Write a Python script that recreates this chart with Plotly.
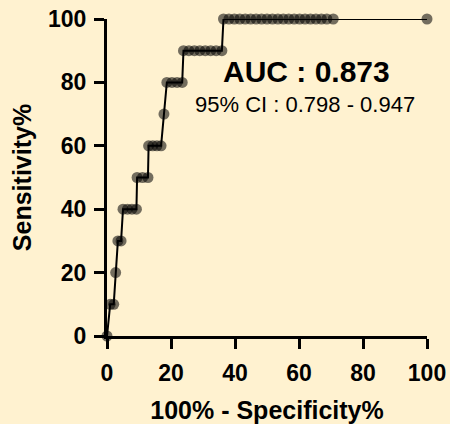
import plotly.graph_objects as go

# ROC points: 100% - Specificity% (x) and Sensitivity% (y)
fpr = [0,
       1.0, 2.1,
       2.7,
       3.4, 4.4,
       5.0, 6.4, 7.8, 9.2,
       9.4, 11.1, 12.8,
       13.0, 14.3, 15.6, 16.9,
       17.8,
       18.7, 20.3, 21.9, 23.5,
       23.9, 25.6, 27.3, 29.0, 30.7, 32.4, 34.1, 35.9,
       36.4, 38.1, 39.8, 41.5, 43.2, 44.9, 46.6, 48.3, 50.0, 51.7, 53.4,
       55.1, 56.8, 58.5, 60.2, 61.9, 63.6, 65.3, 67.0, 68.7, 70.7, 100]
tpr = [0,
       10, 10,
       20,
       30, 30,
       40, 40, 40, 40,
       50, 50, 50,
       60, 60, 60, 60,
       70,
       80, 80, 80, 80,
       90, 90, 90, 90, 90, 90, 90, 90,
       100, 100, 100, 100, 100, 100, 100, 100, 100, 100, 100,
       100, 100, 100, 100, 100, 100, 100, 100, 100, 100, 100]

x_ticks = [0, 20, 40, 60, 80, 100]
y_ticks = [0, 20, 40, 60, 80, 100]
auc_text = "AUC : 0.873"
ci_text = "95% CI : 0.798 - 0.947"

bg = "#FFF2D0"
font_b = "Liberation Sans, Arial, sans-serif"

fig = go.Figure()
fig.add_trace(go.Scatter(
    x=fpr, y=tpr, mode="lines+markers",
    line=dict(color="black", width=2),
    marker=dict(size=11, color="rgba(0,0,0,0.55)", line=dict(width=0)),
    cliponaxis=False, showlegend=False, hoverinfo="skip",
))

fig.add_annotation(x=62.3, y=83.3, xref="x", yref="y", text="<b>" + auc_text + "</b>",
                   showarrow=False, font=dict(family=font_b, size=30, color="black"))
fig.add_annotation(x=62.0, y=72.9, xref="x", yref="y", text=ci_text,
                   showarrow=False, font=dict(family=font_b, size=22, color="black"))

axis_common = dict(
    showline=True, linecolor="black", linewidth=3,
    ticks="outside", ticklen=10, tickwidth=3, tickcolor="black",
    showgrid=False, zeroline=False, automargin=False,
    tickfont=dict(family=font_b, size=23, color="black", weight="bold"),
)

fig.update_xaxes(range=[0, 100], tickvals=x_ticks, ticktext=[str(v) for v in x_ticks],
                 ticklabelstandoff=4,
                 title=dict(text="<b>100% - Specificity%</b>", standoff=18,
                            font=dict(family=font_b, size=25, color="black")),
                 **axis_common)
fig.update_yaxes(range=[0, 100], tickvals=y_ticks, ticktext=[str(v) for v in y_ticks],
                 ticklabelstandoff=3,
                 title=dict(text="<b>Sensitivity%</b>", standoff=10,
                            font=dict(family=font_b, size=25, color="black")),
                 **axis_common)

fig.update_layout(
    width=450, height=424,
    margin=dict(l=107, r=23, t=19, b=88),
    paper_bgcolor=bg, plot_bgcolor=bg,
)

fig.write_html("out.html", config={"displayModeBar": False},
               post_script="document.body.style.margin='0';document.body.style.overflow='hidden';")
